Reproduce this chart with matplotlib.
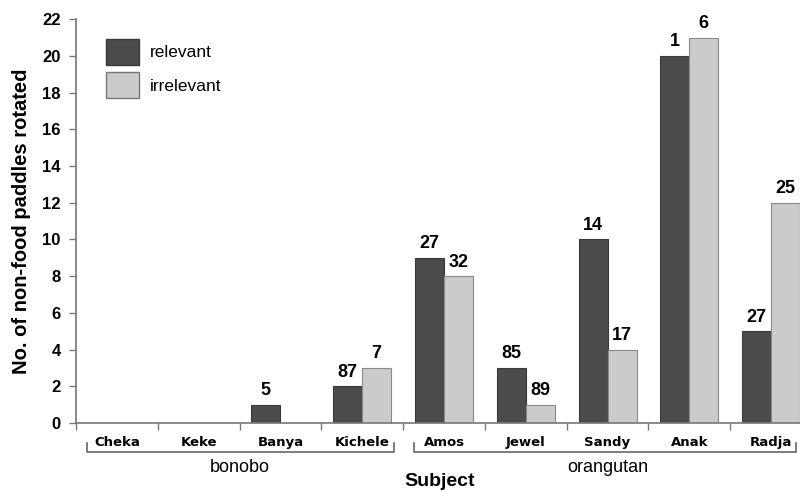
import matplotlib
matplotlib.use("Agg")
import matplotlib.pyplot as plt
import matplotlib.transforms as mtransforms
from matplotlib.patches import Patch
import numpy as np

plt.rcParams['font.family'] = ['Liberation Sans', 'DejaVu Sans']

subjects = ["Cheka", "Keke", "Banya", "Kichele", "Amos", "Jewel", "Sandy", "Anak", "Radja"]
relevant = [0, 0, 1, 2, 9, 3, 10, 20, 5]
irrelevant = [0, 0, 0, 3, 8, 1, 4, 21, 12]
relevant_notes = ["", "", "5", "87", "27", "85", "14", "1", "27"]
irrelevant_notes = ["", "", "", "7", "32", "89", "17", "6", "25"]
groups = [("bonobo", 0, 3), ("orangutan", 4, 8)]

dark = "#4b4b4b"
light = "#cbcbcb"

fig = plt.figure(figsize=(8, 4.91), dpi=100)
ax = fig.add_axes([0.095, 0.1385, 0.92, 0.8225])

x = np.arange(len(subjects))
w = 0.355
ax.bar(x - w / 2, relevant, w, color=dark, edgecolor="#3a3a3a", linewidth=0.8, label="relevant")
ax.bar(x + w / 2, irrelevant, w, color=light, edgecolor="#8a8a8a", linewidth=0.8, label="irrelevant")

for xi, v, note in zip(x, relevant, relevant_notes):
    if note:
        ax.text(xi - w / 2, v + 0.3, note, ha="center", va="bottom", fontsize=13, fontweight="bold")
for xi, v, note in zip(x, irrelevant, irrelevant_notes):
    if note:
        ax.text(xi + w / 2, v + 0.3, note, ha="center", va="bottom", fontsize=13, fontweight="bold")

ax.set_xlim(-0.5, len(subjects) - 0.5)
ax.set_ylim(0, 22)
ax.set_yticks(range(0, 23, 2))
ax.tick_params(axis="y", labelsize=12, length=5, width=1, color="#777777", pad=6)
for lab in ax.get_yticklabels():
    lab.set_fontweight("bold")

ax.set_xticks(np.arange(-0.5, len(subjects), 1.0))
ax.set_xticklabels([])
ax.tick_params(axis="x", length=5, width=1, color="#777777")
for xi, name in zip(x, subjects):
    ax.text(xi, -0.7, name, ha="center", va="top", fontsize=9.5, fontweight="bold",
            family=["DejaVu Sans"])

for side in ["top", "right"]:
    ax.spines[side].set_visible(False)
for side in ["left", "bottom"]:
    ax.spines[side].set_color("#777777")
    ax.spines[side].set_linewidth(1.2)

ax.set_ylabel("No. of non-food paddles rotated", fontsize=14.5, fontweight="bold", labelpad=8)

# group brackets beneath the subject names
trans = mtransforms.blended_transform_factory(ax.transData, fig.transFigure)
y_top, y_bot = 1 - 443 / 491, 1 - 452 / 491
for name, i0, i1 in groups:
    xa = i0 - 0.37
    xb = i1 + 0.3 if i1 == len(subjects) - 1 else i1 + 0.39
    ax.plot([xa, xa, xb, xb], [y_top, y_bot, y_bot, y_top], transform=trans,
            color="#666666", lw=1.2, clip_on=False)
    ax.text((i0 + i1) / 2, 1 - 468 / 491, name, transform=trans, ha="center", va="center", fontsize=13)

fig.text(440 / 800, 1 - 481 / 491, "Subject", ha="center", va="center", fontsize=14, fontweight="bold")

handles = [Patch(facecolor=dark, edgecolor="#3a3a3a"), Patch(facecolor=light, edgecolor="#777777")]
ax.legend(handles, ["relevant", "irrelevant"], loc="upper left", bbox_to_anchor=(0.02, 0.99),
          frameon=False, fontsize=12.5, handlelength=1.9, handleheight=1.9, handletextpad=0.6,
          labelspacing=0.45)

fig.savefig("out.png", dpi=100)
